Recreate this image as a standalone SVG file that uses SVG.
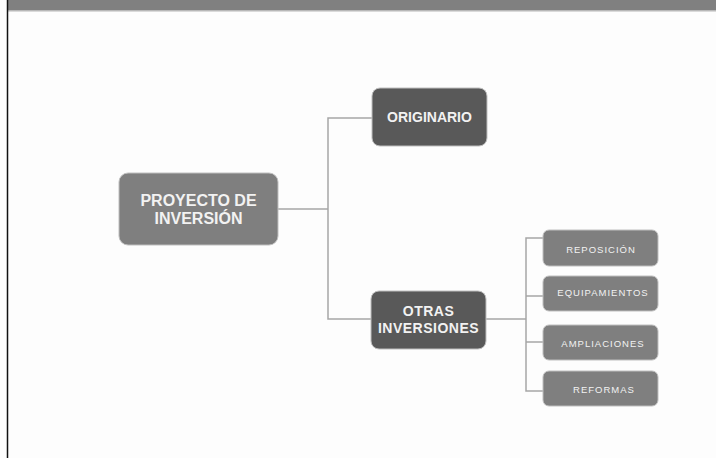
<svg xmlns="http://www.w3.org/2000/svg" width="716" height="458" viewBox="0 0 716 458">
<style>
.big{fill:#7f7f7f;stroke:#bfbfbf;stroke-width:1}
.dark{fill:#595959;stroke:#bfbfbf;stroke-width:1}
.sm{fill:#7f7f7f;stroke:#bfbfbf;stroke-width:1}
.tb{font-family:"Liberation Sans",Arial,sans-serif;font-weight:bold;fill:#f2f2f2;text-anchor:middle}
.ts{font-family:"Liberation Sans",Arial,sans-serif;font-size:9.5px;letter-spacing:1px;fill:#f2f2f2;text-anchor:middle}
.c{fill:none;stroke:#a6a6a6;stroke-width:1.5}
</style>
<rect x="0" y="0" width="716" height="458" fill="#fdfdfd"/>
<rect x="8" y="0" width="708" height="10" fill="#808080"/>
<rect x="8" y="10" width="708" height="1.5" fill="#b8b8b8"/>
<line x1="7.5" y1="0" x2="7.5" y2="458" stroke="#111" stroke-width="1.5"/>
<g id="connectors">
<path class="c" d="M278 209H328M372 118H328V319H372"/>
<path class="c" d="M486 319H526M543 238H526V391H543M526 296H543M526 342H543"/>
</g>
<g id="proyecto">
<rect class="big" x="119" y="173" width="159" height="72" rx="9"/>
<text class="tb" font-size="16" x="198.5" y="206">PROYECTO DE</text>
<text class="tb" font-size="16" x="198.5" y="224">INVERSIÓN</text>
</g>
<g id="originario">
<rect class="dark" x="372" y="88" width="115" height="58" rx="8"/>
<text class="tb" font-size="14" x="429.5" y="122">ORIGINARIO</text>
</g>
<g id="otras">
<rect class="dark" x="371" y="291" width="115" height="58" rx="8"/>
<text class="tb" font-size="14" x="428.5" y="316" letter-spacing="0.5">OTRAS</text>
<text class="tb" font-size="14" x="428.5" y="333" letter-spacing="0.5">INVERSIONES</text>
</g>
<g id="reposicion">
<rect class="sm" x="543" y="230" width="115" height="36" rx="6"/>
<text class="ts" x="601" y="252.5">REPOSICIÓN</text>
</g>
<g id="equipamientos">
<rect class="sm" x="543" y="276" width="115" height="35" rx="6"/>
<text class="ts" x="603" y="296">EQUIPAMIENTOS</text>
</g>
<g id="ampliaciones">
<rect class="sm" x="543" y="325" width="115" height="35" rx="6"/>
<text class="ts" x="603" y="346.5">AMPLIACIONES</text>
</g>
<g id="reformas">
<rect class="sm" x="543" y="371" width="115" height="35" rx="6"/>
<text class="ts" x="604" y="392.5">REFORMAS</text>
</g>
</svg>
